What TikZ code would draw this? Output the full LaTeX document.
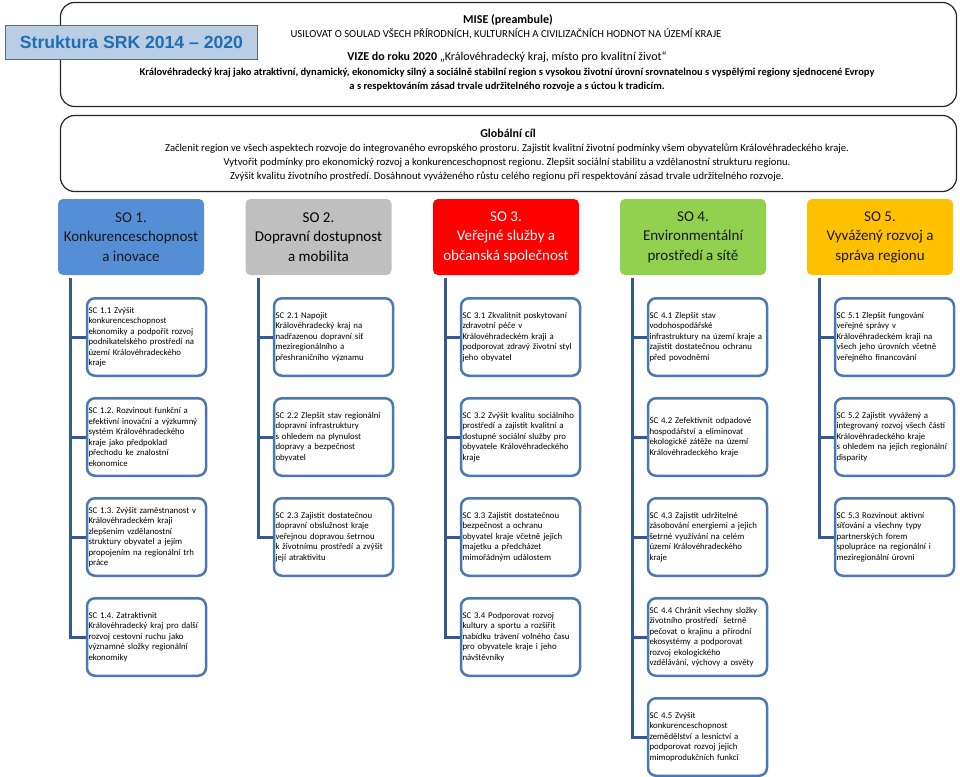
\documentclass[tikz,border=0pt]{standalone}
\usepackage{fontspec}
\setmainfont{Carlito}
\newfontfamily\arialfont{Liberation Sans}
\usetikzlibrary{positioning}

\definecolor{titlefill}{RGB}{185,205,229}
\definecolor{titleblue}{RGB}{31,110,180}
\definecolor{titleline}{RGB}{95,105,125}
\definecolor{soblue}{RGB}{85,142,213}
\definecolor{sogray}{RGB}{191,191,191}
\definecolor{sored}{RGB}{255,0,0}
\definecolor{sogreen}{RGB}{146,208,80}
\definecolor{soyellow}{RGB}{255,192,0}
\definecolor{scline}{RGB}{74,120,180}
\definecolor{trunkline}{RGB}{52,88,145}

\tikzset{
  framebox/.style={draw=black!85, line width=1.2pt, rounded corners=14pt,
    minimum width=896pt, inner sep=0pt},
  titlebox/.style={draw=titleline, fill=titlefill, line width=1pt,
    minimum width=252pt, minimum height=34pt, inner sep=0pt,
    font=\arialfont\bfseries\fontsize{17.6}{20}\selectfont, text=titleblue},
  sobox/.style={rounded corners=5pt, minimum width=146pt, minimum height=76pt,
    align=center, inner sep=0pt, font=\fontsize{15}{19.5}\selectfont},
  scbox/.style={draw=scline, line width=2.5pt, rounded corners=8pt,
    minimum width=118.5pt, minimum height=77.5pt, text width=116pt,
    inner xsep=1.5pt, inner ysep=0pt, align=left,
    font=\fontsize{8.8}{10.5}\selectfont},
  trunk/.style={draw=trunkline, line width=3pt},
}

\begin{document}
\frenchspacing
\begin{tikzpicture}[x=1pt,y=-1pt]
  \useasboundingbox (0,0) rectangle (960,776);

  % mise a vize
  \node[framebox, minimum height=104pt] (mise) at (508.5,54.5) {};
  \node[titlebox] (titul) at (131.5,42.5) {Struktura SRK 2014 – 2020};
  \node[font=\bfseries\fontsize{12}{13}\selectfont] (misenadpis) at (508,19.5) {MISE (preambule)};
  \node[font=\fontsize{10.7}{12}\selectfont] (misetext) at (506,34) {USILOVAT O SOULAD VŠECH PŘÍRODNÍCH, KULTURNÍCH A CIVILIZAČNÍCH HODNOT NA ÚZEMÍ KRAJE};
  \node[font=\fontsize{12}{13}\selectfont] (vize) at (507,57.5) {\textbf{VIZE do roku 2020} „Královéhradecký kraj, místo pro kvalitní život“};
  \node[font=\bfseries\fontsize{10.5}{14}\selectfont, align=center] (vizetext) at (507,80)
    {Královéhradecký kraj jako atraktivní, dynamický, ekonomicky silný a sociálně stabilní region s vysokou životní úrovní srovnatelnou s vyspělými regiony sjednocené Evropy\\
     a s respektováním zásad trvale udržitelného rozvoje a s úctou k tradicím.};

  % globalni cil
  \node[framebox, minimum height=76pt] (cil) at (508.5,153.5) {};
  \node[font=\bfseries\fontsize{12}{13}\selectfont] (cilnadpis) at (508,133) {Globální cíl};
  \node[font=\fontsize{10.6}{14}\selectfont, align=center] (ciltext) at (507,162.5)
    {Začlenit region ve všech aspektech rozvoje do integrovaného evropského prostoru. Zajistit kvalitní životní podmínky všem obyvatelům Královéhradeckého kraje.\\
     Vytvořit podmínky pro ekonomický rozvoj a konkurenceschopnost regionu. Zlepšit sociální stabilitu a vzdělanostní strukturu regionu.\\
     Zvýšit kvalitu životního prostředí. Dosáhnout vyváženého růstu celého regionu při respektování zásad trvale udržitelného rozvoje.};

  % strategicke oblasti
  \node[sobox, fill=soblue, text=black!90] (so1) at (131,237) {SO 1.\\Konkurenceschopnost\\a inovace};
  \node[sobox, fill=sogray, text=black] (so2) at (318.5,237) {SO 2.\\Dopravní dostupnost\\a mobilita};
  \node[sobox, fill=sored, text=white] (so3) at (506,237) {SO 3.\\Veřejné služby a\\občanská společnost};
  \node[sobox, fill=sogreen, text=black!90] (so4) at (693,237) {SO 4.\\Environmentální\\prostředí a sítě};
  \node[sobox, fill=soyellow, text=black!90] (so5) at (880,237) {SO 5.\\Vyvážený rozvoj a\\správa regionu};

  % strategicke cile
  \node[scbox] (sc11) at (146.5,337) {SC 1.1 Zvýšit\\konkurenceschopnost\\ekonomiky a podpořit rozvoj\\podnikatelského prostředí na\\území Královéhradeckého\\kraje};
  \node[scbox] (sc12) at (146.5,437) {SC 1.2. Rozvinout funkční a\\efektivní inovační a výzkumný\\systém Královéhradeckého\\kraje jako předpoklad\\přechodu ke znalostní\\ekonomice};
  \node[scbox] (sc13) at (146.5,537) {SC 1.3. Zvýšit zaměstnanost v\\Královéhradeckém kraji\\zlepšením vzdělanostní\\struktury obyvatel a jejím\\propojením na regionální trh\\práce};
  \node[scbox] (sc14) at (146.5,637) {SC 1.4. Zatraktivnit\\Královéhradecký kraj pro další\\rozvoj cestovní ruchu jako\\významné složky regionální\\ekonomiky};

  \node[scbox] (sc21) at (333.5,337) {SC 2.1 Napojit\\Královéhradecký kraj na\\nadřazenou dopravní síť\\meziregionálního a\\přeshraničního významu};
  \node[scbox] (sc22) at (333.5,437) {SC 2.2 Zlepšit stav regionální\\dopravní infrastruktury\\s ohledem na plynulost\\dopravy a bezpečnost\\obyvatel};
  \node[scbox] (sc23) at (333.5,537) {SC 2.3 Zajistit dostatečnou\\dopravní obslužnost kraje\\veřejnou dopravou šetrnou\\k životnímu prostředí a zvýšit\\její atraktivitu};

  \node[scbox] (sc31) at (520.5,337) {SC 3.1 Zkvalitnit poskytovaní\\zdravotní péče v\\Královéhradeckém kraji a\\podporovat zdravý životní styl\\jeho obyvatel};
  \node[scbox] (sc32) at (520.5,437) {SC 3.2 Zvýšit kvalitu sociálního\\prostředí a zajistit kvalitní a\\dostupné sociální služby pro\\obyvatele Královéhradeckého\\kraje};
  \node[scbox] (sc33) at (520.5,537) {SC 3.3 Zajistit dostatečnou\\bezpečnost a ochranu\\obyvatel kraje včetně jejich\\majetku a předcházet\\mimořádným událostem};
  \node[scbox] (sc34) at (520.5,637) {SC 3.4 Podporovat rozvoj\\kultury a sportu a rozšířit\\nabídku trávení volného času\\pro obyvatele kraje i jeho\\návštěvníky};

  \node[scbox] (sc41) at (707.5,337) {SC 4.1 Zlepšit stav\\vodohospodářské\\infrastruktury na území kraje a\\zajistit dostatečnou ochranu\\před povodněmi};
  \node[scbox] (sc42) at (707.5,437) {SC 4.2 Zefektivnit odpadové\\hospodářství a eliminovat\\ekologické zátěže na území\\Královéhradeckého kraje};
  \node[scbox] (sc43) at (707.5,537) {SC 4.3 Zajistit udržitelné\\zásobování energiemi a jejich\\šetrné využívání na celém\\území Královéhradeckého\\kraje};
  \node[scbox] (sc44) at (707.5,637) {SC 4.4 Chránit všechny složky\\životního prostředí\ \ šetrně\\pečovat o krajinu a přírodní\\ekosystémy a podporovat\\rozvoj ekologického\\vzdělávání, výchovy a osvěty};
  \node[scbox] (sc45) at (707.5,737) {SC 4.5 Zvýšit\\konkurenceschopnost\\zemědělství a lesnictví a\\podporovat rozvoj jejich\\mimoprodukčních funkcí};

  \node[scbox] (sc51) at (894.5,337) {SC 5.1 Zlepšit fungování\\veřejné správy v\\Královéhradeckém kraji na\\všech jeho úrovních včetně\\veřejného financování};
  \node[scbox] (sc52) at (894.5,437) {SC 5.2 Zajistit vyvážený a\\integrovaný rozvoj všech částí\\Královéhradeckého kraje\\s ohledem na jejich regionální\\disparity};
  \node[scbox] (sc53) at (894.5,537) {SC 5.3 Rozvinout aktivní\\síťování a všechny typy\\partnerských forem\\spolupráce na regionální i\\meziregionální úrovni};

  % vetve
  \begin{scope}[trunk]
    \draw ([xshift=13pt,yshift=-3pt]so1.south west) |- (sc11.west);
    \draw ([xshift=13pt,yshift=-3pt]so1.south west) |- (sc12.west);
    \draw ([xshift=13pt,yshift=-3pt]so1.south west) |- (sc13.west);
    \draw ([xshift=13pt,yshift=-3pt]so1.south west) |- (sc14.west);
    \draw ([xshift=13pt,yshift=-3pt]so2.south west) |- (sc21.west);
    \draw ([xshift=13pt,yshift=-3pt]so2.south west) |- (sc22.west);
    \draw ([xshift=13pt,yshift=-3pt]so2.south west) |- (sc23.west);
    \draw ([xshift=13pt,yshift=-3pt]so3.south west) |- (sc31.west);
    \draw ([xshift=13pt,yshift=-3pt]so3.south west) |- (sc32.west);
    \draw ([xshift=13pt,yshift=-3pt]so3.south west) |- (sc33.west);
    \draw ([xshift=13pt,yshift=-3pt]so3.south west) |- (sc34.west);
    \draw ([xshift=13pt,yshift=-3pt]so4.south west) |- (sc41.west);
    \draw ([xshift=13pt,yshift=-3pt]so4.south west) |- (sc42.west);
    \draw ([xshift=13pt,yshift=-3pt]so4.south west) |- (sc43.west);
    \draw ([xshift=13pt,yshift=-3pt]so4.south west) |- (sc44.west);
    \draw ([xshift=13pt,yshift=-3pt]so4.south west) |- (sc45.west);
    \draw ([xshift=13pt,yshift=-3pt]so5.south west) |- (sc51.west);
    \draw ([xshift=13pt,yshift=-3pt]so5.south west) |- (sc52.west);
    \draw ([xshift=13pt,yshift=-3pt]so5.south west) |- (sc53.west);
  \end{scope}
\end{tikzpicture}
\end{document}
